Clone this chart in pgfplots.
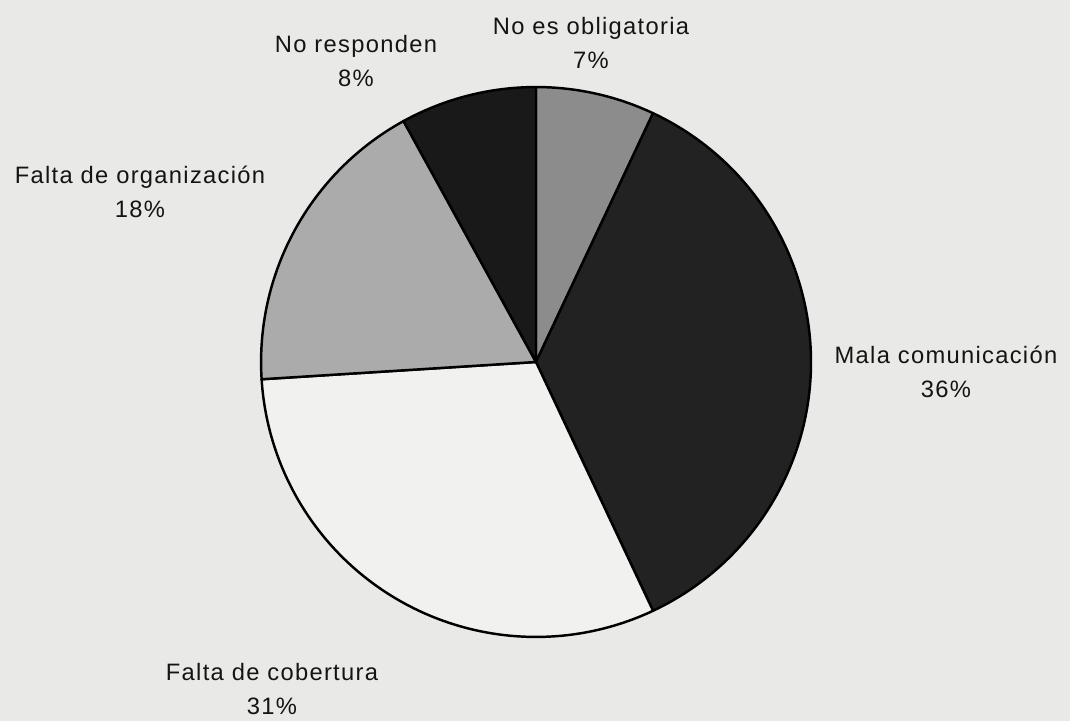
\documentclass[border=0pt]{standalone}
\usepackage{pgfplots}
\pgfplotsset{compat=1.18}
\usepackage{fontspec}
\setmainfont{Liberation Sans}[LetterSpace=5.5]
\definecolor{bg}{HTML}{E9E9E7}
\definecolor{cA}{HTML}{8C8C8C}
\definecolor{cB}{HTML}{222222}
\definecolor{cC}{HTML}{F1F1EF}
\definecolor{cD}{HTML}{ABABAB}
\definecolor{cE}{HTML}{191919}
\definecolor{txt}{HTML}{141414}
\begin{document}
\begin{tikzpicture}
% data (percentages)
\def\vA{7}  % No es obligatoria
\def\vB{36} % Mala comunicacion
\def\vC{31} % Falta de cobertura
\def\vD{18} % Falta de organizacion
\def\vE{8}  % No responden
\pgfmathsetmacro\aA{90}
\pgfmathsetmacro\aB{\aA-3.6*\vA}
\pgfmathsetmacro\aC{\aB-3.6*\vB}
\pgfmathsetmacro\aD{\aC-3.6*\vC}
\pgfmathsetmacro\aE{\aD-3.6*\vD}
\pgfmathsetmacro\aF{\aE-3.6*\vE}
\begin{axis}[
  x=0.02cm, y=0.02cm,
  xmin=0, xmax=1070, ymin=0, ymax=721,
  hide axis, clip=false,
  scale only axis,
]
\fill[bg] (axis cs:0,0) rectangle (axis cs:1070,721);
\def\R{5.5cm}
\filldraw[fill=cA, draw=black, line width=1.4pt, line join=round] (axis cs:536,359) -- ++(\aA:\R) arc[start angle=\aA, end angle=\aB, radius=\R] -- cycle;
\filldraw[fill=cB, draw=black, line width=1.4pt, line join=round] (axis cs:536,359) -- ++(\aB:\R) arc[start angle=\aB, end angle=\aC, radius=\R] -- cycle;
\filldraw[fill=cC, draw=black, line width=1.4pt, line join=round] (axis cs:536,359) -- ++(\aC:\R) arc[start angle=\aC, end angle=\aD, radius=\R] -- cycle;
\filldraw[fill=cD, draw=black, line width=1.4pt, line join=round] (axis cs:536,359) -- ++(\aD:\R) arc[start angle=\aD, end angle=\aE, radius=\R] -- cycle;
\filldraw[fill=cE, draw=black, line width=1.4pt, line join=round] (axis cs:536,359) -- ++(\aE:\R) arc[start angle=\aE, end angle=\aF, radius=\R] -- cycle;
\tikzset{lab/.style={align=center, text=txt, font=\fontsize{13.5}{19}\selectfont, inner sep=0pt}}
\node[lab] at (axis cs:591,678) {No es obligatoria\\\vA\%};
\node[lab] at (axis cs:356,660) {No responden\\\vE\%};
\node[lab] at (axis cs:140,529) {Falta de organización\\\vD\%};
\node[lab] at (axis cs:946,349) {Mala comunicación\\\vB\%};
\node[lab] at (axis cs:272,32) {Falta de cobertura\\\vC\%};
\end{axis}
\end{tikzpicture}
\end{document}
